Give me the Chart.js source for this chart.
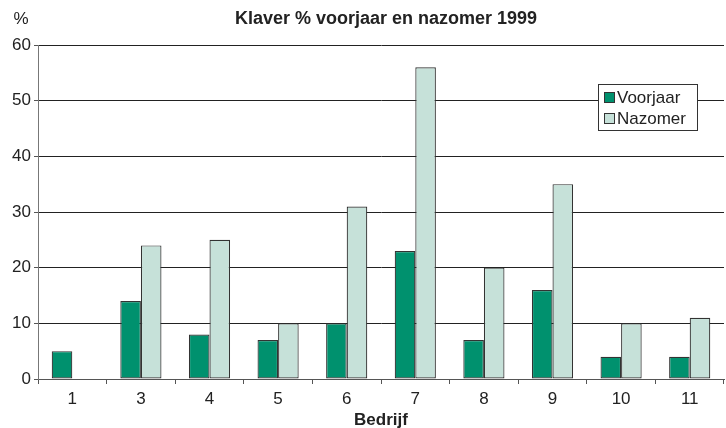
<!DOCTYPE html>
<html>
<head>
<meta charset="utf-8">
<script src="https://cdn.jsdelivr.net/npm/chart.js@4/dist/chart.umd.min.js"></script>
<style>
  html, body { margin: 0; padding: 0; background: #fff; }
  #wrap { width: 726px; height: 428px; }
</style>
</head>
<body>
<div id="wrap"><canvas id="chart" width="726" height="428"></canvas></div>
<script>
var bedrijven = ['1', '3', '4', '5', '6', '7', '8', '9', '10', '11'];
var voorjaar = [5, 14, 8, 7, 10, 23, 7, 16, 4, 4];
var nazomer = [null, 24, 25, 10, 31, 56, 20, 35, 10, 11];
var yTicks = [0, 10, 20, 30, 40, 50, 60];

var fontFam = "'Liberation Sans Narrow', 'Liberation Sans', sans-serif";

// legend box inside the plot, title and "%" drawn by hand
var boxLegend = {
  id: 'boxLegend',
  afterDraw: function (chart) {
    var ctx = chart.ctx;
    var x = 598, y = 84, w = 99, h = 46;
    ctx.save();
    ctx.fillStyle = '#fff';
    ctx.fillRect(x, y, w, h);
    ctx.strokeStyle = '#333';
    ctx.lineWidth = 1;
    ctx.strokeRect(x + 0.5, y + 0.5, w, h);
    ctx.font = '17px ' + fontFam;
    ctx.textBaseline = 'middle';
    chart.data.datasets.forEach(function (ds, i) {
      var yy = y + 13 + i * 21;
      ctx.fillStyle = ds.backgroundColor;
      ctx.fillRect(x + 6, yy - 5, 10, 10);
      ctx.strokeStyle = '#333';
      ctx.strokeRect(x + 6.5, yy - 4.5, 10, 10);
      ctx.fillStyle = '#222';
      ctx.fillText(ds.label, x + 19, yy + 1);
    });
    ctx.textAlign = 'center';
    ctx.fillText('%', 21, 19);
    ctx.font = 'bold 18px ' + fontFam;
    ctx.fillText('Klaver % voorjaar en nazomer 1999', 386, 19);
    ctx.restore();
  }
};

var ctx = document.getElementById('chart').getContext('2d');
var chart = new Chart(ctx, {
  type: 'bar',
  plugins: [boxLegend],
  data: {
    labels: bedrijven,
    datasets: [{
      label: 'Voorjaar',
      data: voorjaar,
      backgroundColor: '#00916e',
      borderColor: '#333',
      borderWidth: 1.2,
      borderSkipped: false,
      barPercentage: 1.0,
      categoryPercentage: 0.6
    }, {
      label: 'Nazomer',
      data: nazomer,
      backgroundColor: '#c6e1d9',
      borderColor: '#333',
      borderWidth: 1.2,
      borderSkipped: false,
      barPercentage: 1.0,
      categoryPercentage: 0.6
    }]
  },
  options: {
    responsive: false,
    animation: false,
    layout: { padding: { top: 45, right: 2, left: 0, bottom: 0 } },
    plugins: {
      legend: { display: false },
      tooltip: { enabled: false },
      title: { display: false }
    },
    scales: {
      x: {
        offset: true,
        afterFit: function (s) { s.height = 49; },
        grid: { offset: true, drawOnChartArea: false, drawTicks: true, tickLength: 5, color: '#555' },
        border: { color: '#555', width: 1 },
        ticks: { color: '#222', font: { family: fontFam, size: 17 }, padding: 5 },
        title: {
          display: true,
          text: 'Bedrijf',
          color: '#222',
          font: { family: fontFam, size: 17, weight: 'bold' },
          padding: { top: 0, bottom: -3 }
        }
      },
      y: {
        min: 0,
        max: 60,
        afterFit: function (s) { s.width = 38; },
        afterBuildTicks: function (s) { s.ticks = yTicks.map(function (v) { return { value: v }; }); },
        grid: { color: '#222', tickLength: 4, tickColor: '#555' },
        border: { color: '#777', width: 1 },
        ticks: { color: '#222', font: { family: fontFam, size: 17 }, padding: 3 }
      }
    }
  }
});
</script>
</body>
</html>
